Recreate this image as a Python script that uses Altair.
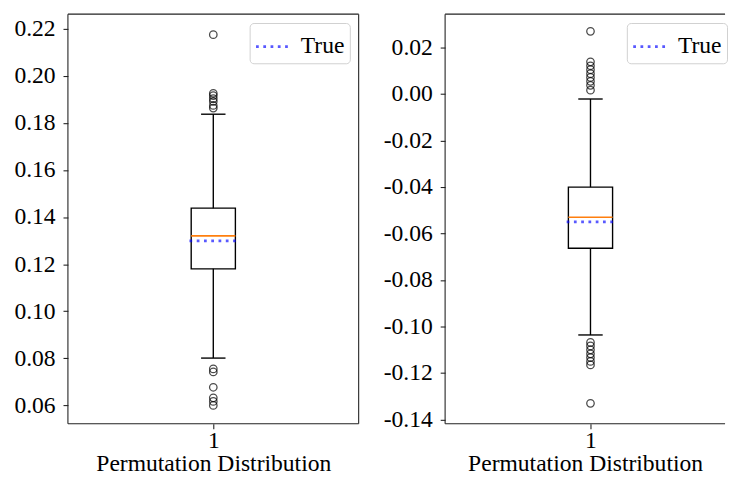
import altair as alt
import pandas as pd

FONT = "Liberation Serif"
FS = 24

# ---- Left panel ----
left_box = {"q1": 0.1180, "med": 0.1320, "q3": 0.1438, "lo": 0.0801, "hi": 0.1837}
left_true = 0.1299
left_outliers = [0.2175, 0.1926, 0.1916, 0.1903, 0.1891, 0.1874, 0.1863,
                 0.0755, 0.0742, 0.0677, 0.0632, 0.0617, 0.0600]
left_ticks = [0.06, 0.08, 0.10, 0.12, 0.14, 0.16, 0.18, 0.20, 0.22]
left_domain = [0.0522, 0.2262]

# ---- Right panel ----
right_box = {"q1": -0.0663, "med": -0.0530, "q3": -0.0400, "lo": -0.1036, "hi": -0.0021}
right_true = -0.0549
right_outliers = [0.0270, 0.0139, 0.0122, 0.0105, 0.0088, 0.0072, 0.0055, 0.0038, 0.0017,
                  -0.1068, -0.1083, -0.1100, -0.1117, -0.1133, -0.1150, -0.1165, -0.1330]
right_ticks = [-0.14, -0.12, -0.10, -0.08, -0.06, -0.04, -0.02, 0.00, 0.02]
right_domain = [-0.1418, 0.0344]

x_pos = [1]
x_label = "Permutation Distribution"
legend_label = ["True"]

BOX_HALF = 0.076
CAP_HALF = 0.042
TRUE_HALF = 0.082
FULL_W = 296
H = 417
FRAME = "#222"


def panel(box, true_val, outliers, ticks, domain, width, right_border):
    xs = alt.Scale(domain=[0.5, 0.5 + width / FULL_W], nice=False, zero=False)
    ys = alt.Scale(domain=domain, nice=False, zero=False)
    c = x_pos[0]
    xaxis = alt.Axis(values=x_pos, labelExpr="'1'", title=x_label, grid=False,
                     tickSize=5, labelPadding=0, titleY=29, titleBaseline="top")
    yaxis = alt.Axis(values=ticks, grid=False, title=None, tickSize=5, labelPadding=8,
                     labelExpr="(datum.value < -1e-9 ? '-' : '') + format(abs(datum.value), '.2f')")

    box_df = pd.DataFrame({"x0": [c - BOX_HALF], "x1": [c + BOX_HALF], "q1": [box["q1"]],
                           "q3": [box["q3"]], "med": [box["med"]]})
    whisk_df = pd.DataFrame({"x": [c, c], "a": [box["q3"], box["q1"]], "b": [box["hi"], box["lo"]]})
    cap_df = pd.DataFrame({"x0": [c - CAP_HALF] * 2, "x1": [c + CAP_HALF] * 2,
                           "y": [box["hi"], box["lo"]]})
    true_df = pd.DataFrame({"x0": [c - TRUE_HALF], "x1": [c + TRUE_HALF], "y": [true_val],
                            "label": legend_label})
    out_df = pd.DataFrame({"x": [c] * len(outliers), "y": outliers})
    one = pd.DataFrame({"k": [0]})

    boxm = alt.Chart(box_df).mark_rect(fillOpacity=0, stroke="black", strokeWidth=1.4).encode(
        x=alt.X("x0:Q", scale=xs, axis=xaxis), x2="x1", y=alt.Y("q3:Q", scale=ys, axis=yaxis), y2="q1")
    whisk = alt.Chart(whisk_df).mark_rule(color="black", strokeWidth=1.4).encode(
        x=alt.X("x:Q", scale=xs), y=alt.Y("a:Q", scale=ys), y2="b")
    caps = alt.Chart(cap_df).mark_rule(color="black", strokeWidth=1.4).encode(
        x=alt.X("x0:Q", scale=xs), x2="x1", y=alt.Y("y:Q", scale=ys))
    med = alt.Chart(box_df).mark_rule(color="#ff7f0e", strokeWidth=1.6).encode(
        x=alt.X("x0:Q", scale=xs), x2="x1", y=alt.Y("med:Q", scale=ys))
    truem = alt.Chart(true_df).mark_rule(strokeWidth=2.8, strokeDash=[2.8, 4.6], opacity=0.65).encode(
        x=alt.X("x0:Q", scale=xs), x2="x1", y=alt.Y("y:Q", scale=ys),
        color=alt.Color("label:N", scale=alt.Scale(domain=legend_label, range=["blue"]),
                        legend=alt.Legend(orient="none", legendX=185, legendY=9, title=None,
                                          symbolType="stroke", symbolSize=1225,
                                          symbolDash=[2.8, 4.6], symbolStrokeWidth=2.8,
                                          symbolOpacity=0.65, labelFontSize=FS, labelFont=FONT,
                                          labelColor="black", labelOffset=9,
                                          strokeColor="#d0d0d0", fillColor="white",
                                          cornerRadius=4, padding=5)))
    outs = alt.Chart(out_df).mark_point(shape="circle", filled=False, size=58, color="black",
                                        strokeWidth=1.3).encode(
        x=alt.X("x:Q", scale=xs), y=alt.Y("y:Q", scale=ys))

    frame_style = dict(color=FRAME, strokeWidth=1.1)
    top = alt.Chart(one).mark_rule(**frame_style).encode(
        x=alt.value(0), x2=alt.value(width), y=alt.value(0))
    bottom = alt.Chart(one).mark_rule(**frame_style).encode(
        x=alt.value(0), x2=alt.value(width), y=alt.value(H))
    left = alt.Chart(one).mark_rule(**frame_style).encode(
        x=alt.value(0), y=alt.value(0), y2=alt.value(H))
    layers = [boxm, whisk, caps, med, truem, outs, top, bottom, left]
    if right_border:
        layers.append(alt.Chart(one).mark_rule(**frame_style).encode(
            x=alt.value(width), y=alt.value(0), y2=alt.value(H)))
    return alt.layer(*layers).properties(width=width, height=H)


chart = alt.hconcat(
    panel(left_box, left_true, left_outliers, left_ticks, left_domain, FULL_W, True),
    panel(right_box, right_true, right_outliers, right_ticks, right_domain, 285, False),
    spacing=22,
).resolve_scale(color="independent").properties(
    padding={"left": 5, "top": 0, "right": 0, "bottom": 0}
).configure_view(stroke="transparent").configure_axis(
    labelFont=FONT, titleFont=FONT, labelFontSize=FS, titleFontSize=FS,
    titleFontWeight="normal", labelColor="black", titleColor="black",
    tickColor=FRAME, tickWidth=1.1, domain=False
)

chart.save("out.html", embed_options={"renderer": "svg", "actions": False})
